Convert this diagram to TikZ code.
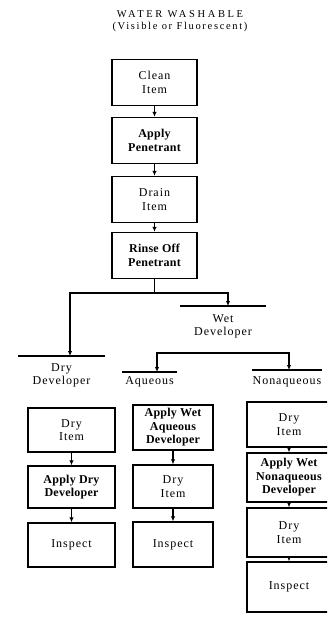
\documentclass[tikz,border=0pt]{standalone}
\usepackage{fontspec}
\setmainfont{Liberation Serif}[LetterSpace=8, BoldFeatures={LetterSpace=2}]
\usetikzlibrary{arrows.meta}

\begin{document}
\begin{tikzpicture}[x=1pt, y=-1pt]
    \tikzset{
        stepbox/.style={draw, line width=1.4pt, minimum width=85pt, minimum height=46pt, align=center, inner sep=1pt, font=\fontsize{12}{13.5}\selectfont},
        boldbox/.style={stepbox, font=\fontsize{12}{13.5}\selectfont\bfseries},
        barlabel/.style={anchor=north, align=center, minimum width=#1, inner xsep=0pt, font=\fontsize{12}{13.5}\selectfont},
        barline/.style={line width=1.4pt},
        flowline/.style={line width=1.2pt},
        flow/.style={flowline, -{Latex[length=5pt, width=4.5pt]}}
    }
    \useasboundingbox (0,0) rectangle (327,620);
    \clip (0,0) rectangle (327,620);

    % --- 1. TITRE ---
    \node[align=center, font=\fontsize{10.5}{11.5}\selectfont] (title) at (180,21)
        {{\addfontfeatures{LetterSpace=25}WATER WASHABLE}\\{\addfontfeatures{LetterSpace=16}(Visible or Fluorescent)}};

    % --- 2. COLONNE DU HAUT ---
    \node[stepbox] (clean) at (154.5,82.5) {Clean\\Item};
    \node[boldbox] (apply) at (154.5,140.5) {Apply\\Penetrant};
    \node[stepbox] (drain) at (154.5,199.5) {Drain\\Item};
    \node[boldbox] (rinse) at (154.5,255.5) {Rinse Off\\Penetrant};

    \draw[flow] (clean) -- (apply);
    \draw[flow] (apply) -- (drain);
    \draw[flow] (drain) -- (rinse);

    % --- 3. DEVELOPPEURS ---
    \coordinate (split1) at (154.5,293);
    \node[barlabel=87pt, inner ysep=7pt] (drydev) at (61.5,356) {Dry\\Developer};
    \node[barlabel=86pt, inner ysep=8pt] (wetdev) at (223,306) {Wet\\Developer};
    \draw[barline] (drydev.north west) -- (drydev.north east);
    \draw[barline] (wetdev.north west) -- (wetdev.north east);

    \draw[flowline] (rinse) -- (split1);
    \draw[flow] (split1) -| ([xshift=8.5pt]drydev.north);
    \draw[flow] (split1) -| ([xshift=5pt]wetdev.north);

    \coordinate (split2) at (223,353);
    \node[barlabel=55pt, inner ysep=4pt] (aqueous) at (149.5,372) {Aqueous};
    \node[barlabel=60pt, inner ysep=6pt] (nonaq) at (287,370) {Nonaqueous};
    \draw[barline] (aqueous.north west) -- (aqueous.north east);
    \draw[barline] (nonaq.north west) -- (nonaq.north east);

    \draw[flow] (split2) -| ([xshift=7.5pt]aqueous.north);
    \draw[flow] (split2) -| ([xshift=2pt]nonaq.north);

    % --- 4. POUDRE SECHE ---
    \node[stepbox, minimum width=87pt, minimum height=44pt] (dryA) at (71.5,430) {Dry\\Item};
    \node[boldbox, minimum width=87pt, minimum height=42pt] (applydry) at (71.5,487) {Apply Dry\\Developer};
    \node[stepbox, minimum width=87pt, minimum height=44pt] (inspectA) at (71.5,545) {Inspect};

    \draw[flow] (dryA) -- (applydry);
    \draw[flow] (applydry) -- (inspectA);

    % --- 5. AQUEUX ---
    \node[boldbox, minimum width=80pt, minimum height=45pt] (applyaq) at (173,427.5) {Apply Wet\\Aqueous\\Developer};
    \node[stepbox, minimum width=80pt, minimum height=43pt] (dryB) at (173,486.5) {Dry\\Item};
    \node[stepbox, minimum width=80pt, minimum height=45pt] (inspectB) at (173,544.5) {Inspect};

    \draw[flow] (applyaq) -- (dryB);
    \draw[flow] (dryB) -- (inspectB);

    % --- 6. NON AQUEUX ---
    \node[stepbox, minimum width=84pt, minimum height=45pt] (dryC) at (289,424.5) {Dry\\Item};
    \node[boldbox, minimum width=84pt, minimum height=49pt] (applynon) at (289,477.5) {Apply Wet\\Nonaqueous\\Developer};
    \node[stepbox, minimum width=84pt, minimum height=49pt] (dryD) at (289,532.5) {Dry\\Item};
    \node[stepbox, minimum width=84pt, minimum height=50pt] (inspectC) at (289,587) {Inspect};

    \draw[flow] (dryC) -- (applynon);
    \draw[flow] (applynon) -- (dryD);
    \draw[flow] (dryD) -- (inspectC);

\end{tikzpicture}
\end{document}
